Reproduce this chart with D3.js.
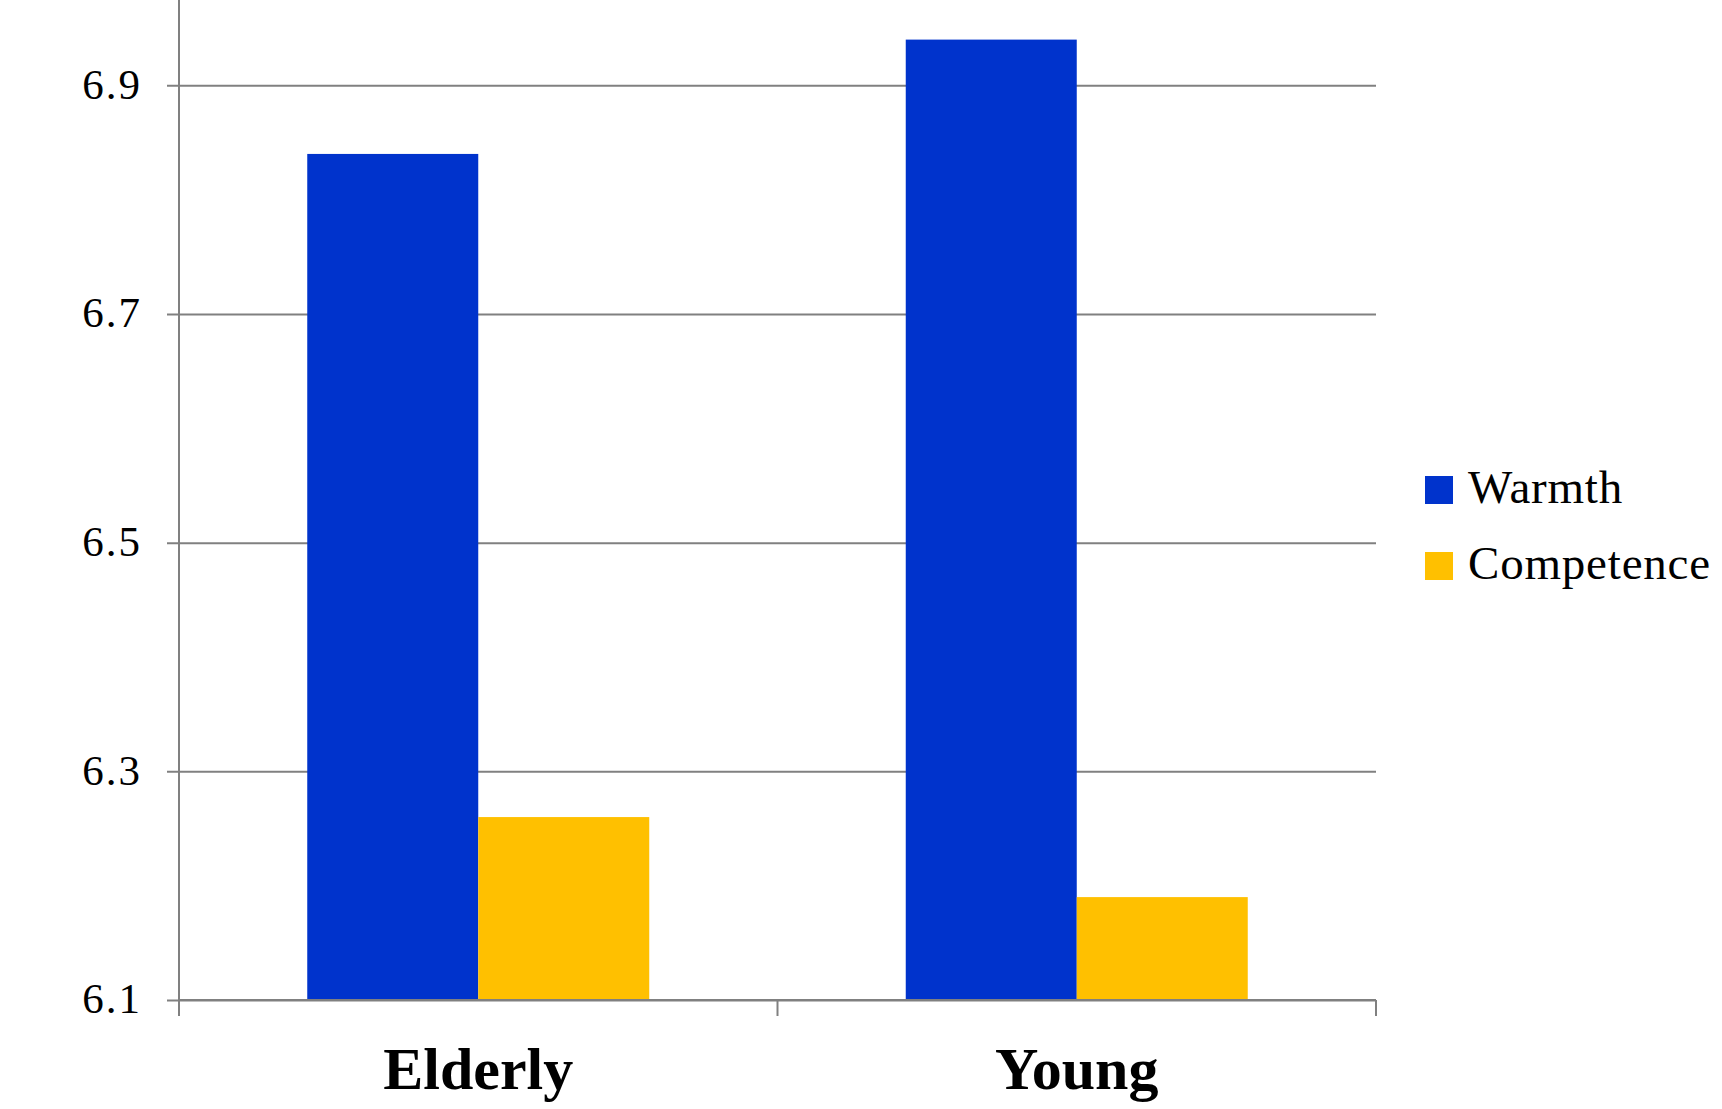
<!DOCTYPE html>
<html>
<head>
<meta charset="utf-8">
<script src="https://cdn.jsdelivr.net/npm/d3@7"></script>
<style>
  body { margin: 0; background: #fff; }
  svg { display: block; font-family: 'Liberation Serif', 'Times New Roman', serif; }
</style>
</head>
<body>
<div class="chart"></div>
<script>
const categories = ['Elderly', 'Young'];
const seriesNames = ['Warmth', 'Competence'];
const warmth = [6.84, 6.94];
const competence = [6.26, 6.19];
const yTicks = [6.1, 6.3, 6.5, 6.7, 6.9];
const colors = ['#0033cc', '#ffc000'];

const width = 1722;
const height = 1109;
const plot = { left: 179, right: 1376, top: -29, bottom: 1000 };

const svg = d3.select('.chart').append('svg')
    .attr('width', width)
    .attr('height', height);

const x0 = d3.scaleBand().domain(categories).range([plot.left, plot.right]);
const x1 = d3.scaleBand().domain(seriesNames).range([0, x0.bandwidth()]).paddingOuter(0.75);
const y = d3.scaleLinear().domain([6.1, 7.0]).range([plot.bottom, plot.top]);

// gridlines + y labels
svg.append('g')
    .attr('transform', `translate(${plot.left},0)`)
    .call(d3.axisLeft(y).tickValues(yTicks).tickSize(-(plot.right - plot.left)).tickSizeOuter(0)
      .tickFormat(d3.format('.1f')))
    .call(g => g.select('.domain').remove())
    .call(g => g.selectAll('.tick line').attr('stroke', '#808080').attr('stroke-width', 2).attr('x1', -12))
    .call(g => g.selectAll('.tick text').attr('x', -37).attr('dy', '0.3em')
      .attr('font-size', 43).attr('letter-spacing', 2).attr('fill', '#000')
      .attr('font-family', 'Liberation Serif, serif'));

const data = categories.map((c, i) => ({ cat: c, vals: [warmth[i], competence[i]] }));

svg.append('g').selectAll('g')
    .data(data)
  .enter().append('g')
    .attr('transform', d => `translate(${x0(d.cat)},0)`)
  .selectAll('rect')
    .data(d => d.vals.map((v, j) => ({ key: seriesNames[j], v, j })))
  .enter().append('rect')
    .attr('x', d => x1(d.key))
    .attr('width', x1.bandwidth())
    .attr('y', d => y(d.v))
    .attr('height', d => y(6.1) - y(d.v))
    .attr('fill', d => colors[d.j]);

// y axis line
svg.append('line')
    .attr('x1', plot.left).attr('x2', plot.left)
    .attr('y1', 0).attr('y2', plot.bottom + 16)
    .attr('stroke', '#808080').attr('stroke-width', 2);

// x axis
const xAxis = svg.append('g');
xAxis.append('line')
    .attr('x1', plot.left).attr('x2', plot.right)
    .attr('y1', plot.bottom).attr('y2', plot.bottom)
    .attr('stroke', '#808080').attr('stroke-width', 2);
xAxis.selectAll('.xt')
    .data(categories.concat(['end']))
  .enter().append('line')
    .attr('x1', (d, i) => i < categories.length ? x0(d) : plot.right)
    .attr('x2', (d, i) => i < categories.length ? x0(d) : plot.right)
    .attr('y1', plot.bottom).attr('y2', plot.bottom + 16)
    .attr('stroke', '#808080').attr('stroke-width', 2);
xAxis.selectAll('text')
    .data(categories)
  .enter().append('text')
    .attr('x', d => x0(d) + x0.bandwidth() / 2)
    .attr('y', 1089)
    .attr('text-anchor', 'middle')
    .attr('font-size', 60)
    .attr('font-weight', 'bold')
    .text(d => d);

// legend
const legend = svg.append('g').attr('transform', 'translate(1425,476)');
seriesNames.forEach((s, i) => {
  const row = legend.append('g').attr('transform', `translate(0,${i * 76})`);
  row.append('rect').attr('width', 28).attr('height', 28).attr('fill', colors[i]);
  row.append('text')
      .attr('x', 43).attr('y', 27)
      .attr('font-size', 47)
      .attr('letter-spacing', 0.8)
      .text(s);
});
</script>
</body>
</html>
